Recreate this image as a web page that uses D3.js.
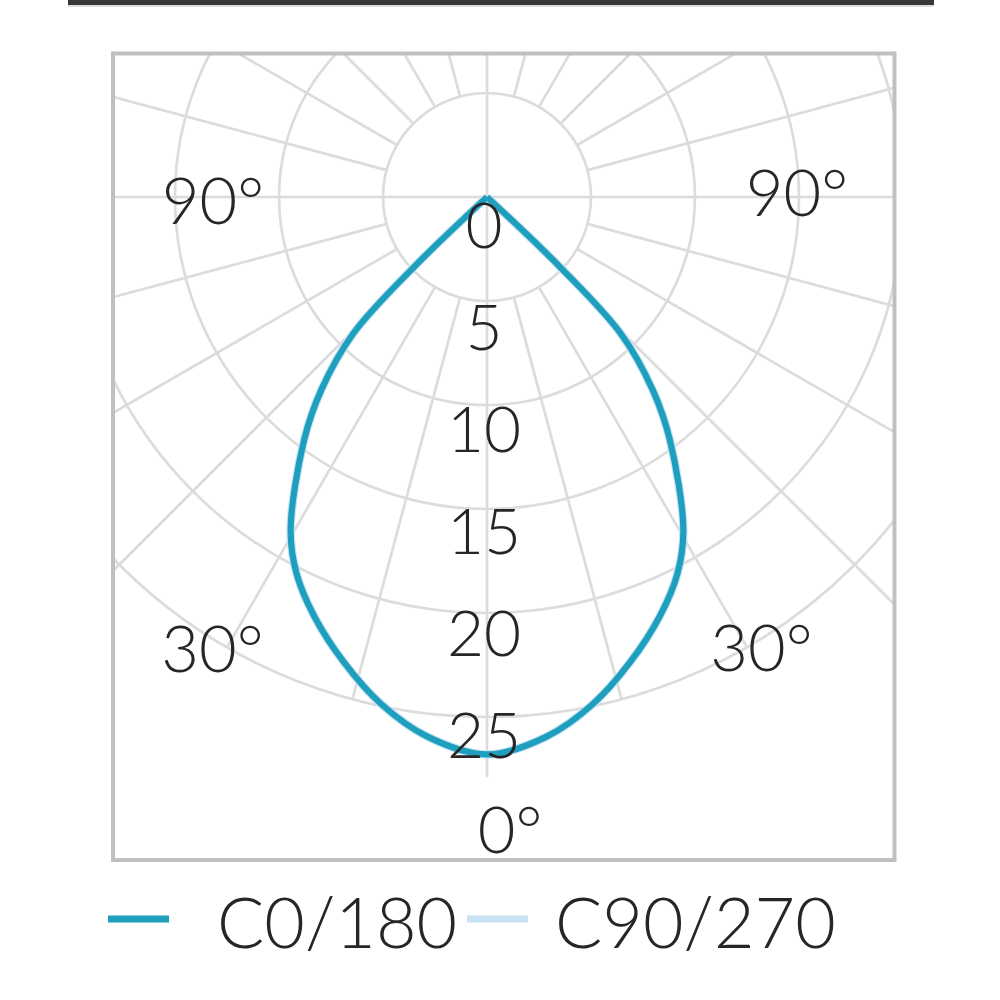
<!DOCTYPE html>
<html>
<head>
<meta charset="utf-8">
<script src="https://cdn.jsdelivr.net/npm/d3@7"></script>
<style>
  html, body { margin: 0; padding: 0; background: #fff; }
  svg { display: block; }
  text { font-family: Lato, "Open Sans", "Noto Sans", sans-serif; font-weight: 300; fill: #262626; }
</style>
</head>
<body>
<svg id="chart" width="1000" height="1000"></svg>
<script>
// ---------------- data ----------------
const ringValues = [5, 10, 15, 20, 25];
const scaleTickValues = [0, 5, 10, 15, 20, 25];
const scaleTickLabels = ["0", "5", "10", "15", "20", "25"];
const spokeAngles = [0, 15, 30, 45, 60, 75, 90, 105, 120, 135, 150, 165, 180,
                     195, 210, 225, 240, 255, 270, 285, 300, 315, 330, 345];
const angleTickDegrees = [-90, 90, -31, 31, 0];
const angleTickLabels = ["90°", "90°", "30°", "30°", "0°"];

// gamma angle (deg, 0 = straight down, negative = left) and intensity
const c0Angles = [-46.6, -46.2, -44.4, -40.7, -37.0, -30.5, -26.8, -22.4, -17.1, -11.8, -6.3, 0,
                  6.3, 11.8, 17.1, 22.4, 26.8, 30.5, 37.0, 40.7, 44.4, 46.2, 46.6];
const c0Values = [0, 4.9, 9.2, 12.2, 14.6, 18.6, 20.3, 21.8, 23.4, 24.9, 26.1, 26.8,
                  26.1, 24.9, 23.4, 21.8, 20.3, 18.6, 14.6, 12.2, 9.2, 4.9, 0];
const c90Angles = c0Angles;
const c90Values = [0, 4.9, 9.2, 12.2, 14.6, 18.6, 20.3, 21.8, 23.4, 24.9, 26.1, 26.8,
                   26.1, 24.9, 23.4, 21.8, 20.3, 18.6, 14.6, 12.2, 9.2, 4.9, 0];
const seriesNames = ["C0/180", "C90/270"];
const seriesColors = ["#1f9fbe", "#c7e3f3"];

// ---------------- layout ----------------
const svg = d3.select("#chart");
svg.append("rect").attr("width", 1000).attr("height", 1000).attr("fill", "#fff");

const cx = 487, cy = 197;
const frame = { x: 113, y: 53.5, w: 781.5, h: 806.5 };
const r = d3.scaleLinear().domain([0, 25]).range([0, 520]);
const toRad = d => d * Math.PI / 180;

// top dark bar
svg.append("rect").attr("x", 68).attr("y", 0).attr("width", 866).attr("height", 5).attr("fill", "#383838");
svg.append("rect").attr("x", 68).attr("y", 5).attr("width", 866).attr("height", 2).attr("fill", "#bdbdbd").attr("opacity", 0.5);

const defs = svg.append("defs");
defs.append("clipPath").attr("id", "frameClip")
  .append("rect").attr("x", frame.x).attr("y", frame.y).attr("width", frame.w).attr("height", frame.h);

const grid = svg.append("g").attr("clip-path", "url(#frameClip)")
  .append("g")
  .attr("transform", `translate(${cx},${cy})`)
  .attr("fill", "none").attr("stroke", "#dcdcdc").attr("stroke-width", 2.7);

// rings
grid.selectAll("circle.ring").data(ringValues).join("circle")
  .attr("class", "ring").attr("r", d => r(d));

// spokes (angle measured from straight down)
const spokeLen = d => (d > 90 && d < 270) ? r(40) : (d % 45 === 0 ? r(27.9) : r(25));
grid.selectAll("line.spoke").data(spokeAngles).join("line")
  .attr("class", "spoke")
  .attr("x1", d => (d % 90 === 0 ? 0 : r(5)) * Math.sin(toRad(d)))
  .attr("y1", d => (d % 90 === 0 ? 0 : r(5)) * Math.cos(toRad(d)))
  .attr("x2", d => spokeLen(d) * Math.sin(toRad(d)))
  .attr("y2", d => spokeLen(d) * Math.cos(toRad(d)));

// frame
svg.append("rect").attr("x", frame.x).attr("y", frame.y).attr("width", frame.w).attr("height", frame.h)
  .attr("fill", "none").attr("stroke", "#c0c0c0").attr("stroke-width", 4);

// curves
const plot = svg.append("g").attr("transform", `translate(${cx},${cy})`);
const radial = d3.lineRadial()
  .angle(d => Math.PI - toRad(d[0]))
  .radius(d => r(d[1]))
  .curve(d3.curveCatmullRom.alpha(0.5));

plot.append("path")
  .datum(d3.zip(c90Angles, c90Values))
  .attr("d", radial)
  .attr("fill", "none").attr("stroke", seriesColors[1]).attr("stroke-width", 8.5)
  .attr("stroke-linejoin", "round");
plot.append("path")
  .datum(d3.zip(c0Angles, c0Values))
  .attr("d", radial)
  .attr("fill", "none").attr("stroke", seriesColors[0]).attr("stroke-width", 6.2)
  .attr("stroke-linejoin", "round");

// radial scale labels
svg.append("g").selectAll("text").data(scaleTickValues).join("text")
  .attr("x", cx - 3)
  .attr("y", d => cy + 51 + r(d) * 0.981)
  .attr("text-anchor", "middle")
  .attr("font-size", 64)
  .text((d, i) => scaleTickLabels[i]);

// angle labels (placed in polar coordinates around the centre)
const angleLabelRadius = [274, 310, 533, 533, 633];
const angleLabelNudge = [[0, 4], [0, -4], [0, -5], [0, -6], [23, 0]];
svg.append("g").selectAll("text").data(angleTickDegrees).join("text")
  .attr("x", (d, i) => cx + angleLabelRadius[i] * Math.sin(toRad(d)) + angleLabelNudge[i][0])
  .attr("y", (d, i) => cy + angleLabelRadius[i] * Math.cos(toRad(d)) + angleLabelNudge[i][1] + 23)
  .attr("text-anchor", "middle")
  .attr("font-size", 65)
  .text((d, i) => angleTickLabels[i]);

// legend
const legend = svg.append("g");
const legendX = [108, 467];
const legendTextX = [217, 555];
seriesNames.forEach((name, i) => {
  legend.append("line")
    .attr("x1", legendX[i]).attr("x2", legendX[i] + 61)
    .attr("y1", 919).attr("y2", 919)
    .attr("stroke", seriesColors[i]).attr("stroke-width", 7);
  legend.append("text")
    .attr("x", legendTextX[i]).attr("y", 948)
    .attr("font-size", 70)
    .text(name);
});
</script>
</body>
</html>
